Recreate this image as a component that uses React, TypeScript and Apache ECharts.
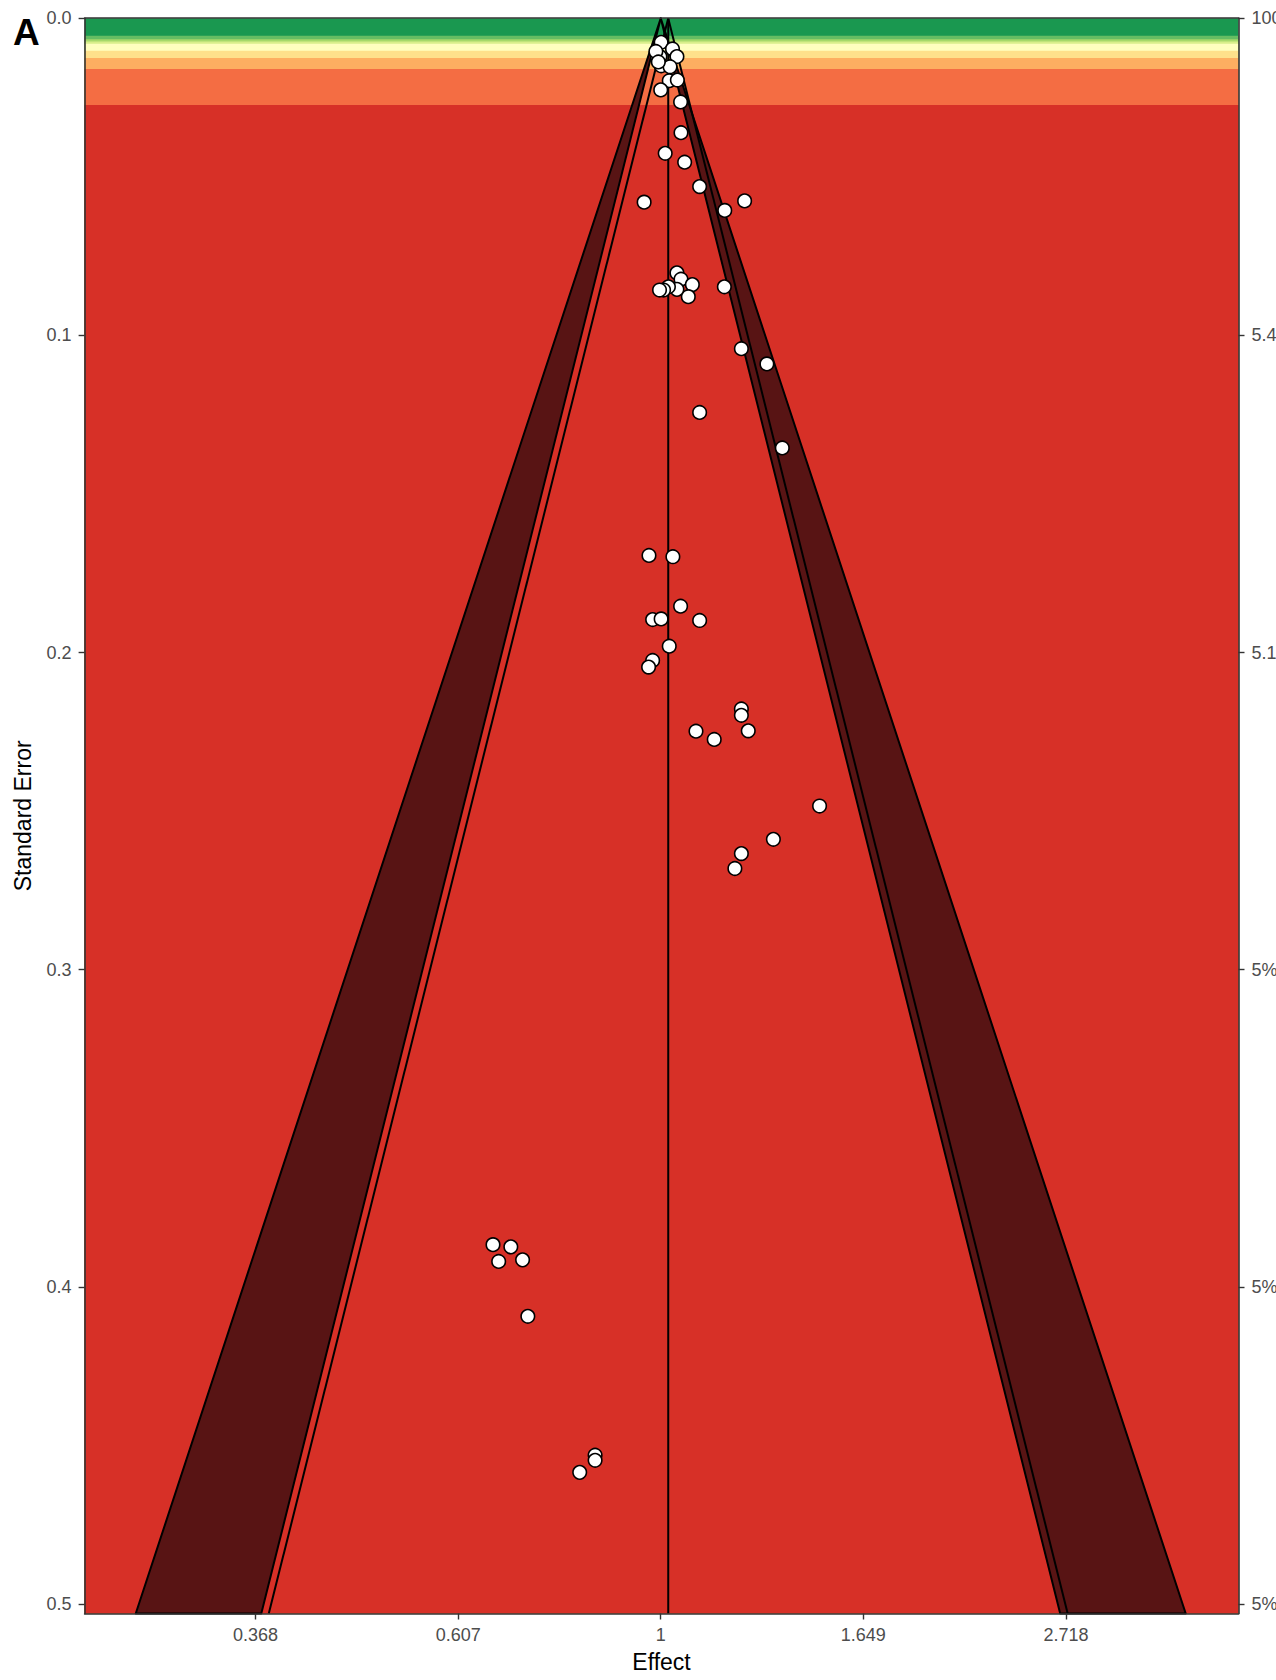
import React, { useEffect, useRef } from "react";
import * as echarts from "echarts";

// ---- data ----
const logEffect = [0.001, 0.029, 0.040, -0.008, -0.002, 0.001, 0.023, 0.021, 0.041, 0.000, 0.049, 0.050, 0.011, 0.059, 0.096, -0.041, 0.207, 0.158, 0.040, 0.050, 0.078, 0.068, 0.040, 0.019, 0.007, -0.003, 0.157, 0.199, 0.262, 0.096, 0.300, -0.029, 0.030, 0.049, -0.020, 0.001, 0.096, 0.021, -0.020, -0.030, 0.199, 0.199, 0.087, 0.132, 0.216, 0.392, 0.278, 0.199, 0.183, -0.414, -0.370, -0.400, -0.341, -0.328, -0.162, -0.162, -0.200, -0.012, -0.006];
const standardError = [0.0076, 0.0097, 0.0121, 0.0122, 0.0121, 0.0150, 0.0153, 0.0197, 0.0195, 0.0226, 0.0264, 0.0361, 0.0426, 0.0454, 0.0531, 0.0580, 0.0576, 0.0606, 0.0803, 0.0823, 0.0840, 0.0878, 0.0855, 0.0847, 0.0857, 0.0857, 0.0847, 0.1042, 0.1090, 0.1243, 0.1355, 0.1694, 0.1698, 0.1854, 0.1896, 0.1894, 0.1899, 0.1980, 0.2025, 0.2046, 0.2178, 0.2198, 0.2248, 0.2274, 0.2247, 0.2484, 0.2589, 0.2634, 0.2681, 0.3867, 0.3874, 0.3920, 0.3915, 0.4093, 0.4531, 0.4547, 0.4585, 0.0105, 0.0138];

const summaryLogEffect = 0.0185;
const zInner = 1.96;
const zOuter = 2.576;

// power bands (start SE of each band) and colours
const bandStartSE = [0, 0.00552, 0.00665, 0.00735, 0.00804, 0.01025, 0.01255, 0.0160, 0.0274];
const bandColors = ["#1A9850", "#66BD63", "#A6D96A", "#D9EF8B", "#FFFFBF", "#FEE08B", "#FDAE61", "#F46D43", "#D73027"];

const xTickValues = [-1, -0.5, 0, 0.5, 1];
const xTickLabels = ["0.368", "0.607", "1", "1.649", "2.718"];
const seTickLabels = ["0.0", "0.1", "0.2", "0.3", "0.4", "0.5"];
const powerTickLabels = ["100%", "5.4%", "5.1%", "5%", "5%", "5%"];

const X_MIN = -1.422;
const X_MAX = 1.426;
const SE_MAX = 0.503;

const FONT = "'Liberation Sans', Arial, Helvetica, sans-serif";
const DARK = "#581414";

export default function App() {
  const ref = useRef<HTMLDivElement>(null);

  useEffect(() => {
    document.body.style.margin = "0";
    document.body.style.overflow = "hidden";
    if (!ref.current) return;
    const chart = echarts.init(ref.current, undefined, { renderer: "svg" });

    const points = logEffect.map((v, i) => [v, standardError[i]]);

    const axisLineStyle = { color: "#333333", width: 1.6 };
    const tickStyle = { color: "#333333", width: 1.4 };

    const option: any = {
      animation: false,
      backgroundColor: "#ffffff",
      textStyle: { fontFamily: FONT },
      grid: {
        left: 84.6,
        top: 18.2,
        right: 37.5,
        bottom: 66.5,
        containLabel: false,
        outerBoundsMode: "none",
      },
      graphic: [
        {
          type: "text",
          left: 13,
          top: 14,
          z: 100,
          style: { text: "A", fill: "#000", font: `bold 37px ${FONT}` },
        },
      ],
      xAxis: [
        {
          type: "value",
          min: X_MIN,
          max: X_MAX,
          z: 10,
          position: "bottom",
          name: "Effect",
          nameLocation: "middle",
          nameGap: 37,
          nameTextStyle: { color: "#000", fontSize: 23, fontFamily: FONT },
          axisLine: { show: true, onZero: false, lineStyle: axisLineStyle },
          axisTick: { show: true, length: 6, lineStyle: tickStyle, customValues: xTickValues },
          axisLabel: {
            show: true,
            color: "#4D4D4D",
            fontSize: 18,
            fontFamily: FONT,
            margin: 12,
            customValues: xTickValues,
            formatter: (v: number) => {
              const i = xTickValues.findIndex((t) => Math.abs(t - v) < 1e-6);
              return i >= 0 ? xTickLabels[i] : "";
            },
          },
          splitLine: { show: false },
        },
        {
          type: "value",
          min: X_MIN,
          max: X_MAX,
          z: 10,
          position: "top",
          axisLine: { show: true, onZero: false, lineStyle: axisLineStyle },
          axisTick: { show: false },
          axisLabel: { show: false },
          splitLine: { show: false },
        },
      ],
      yAxis: [
        {
          type: "value",
          inverse: true,
          min: 0,
          max: SE_MAX,
          interval: 0.1,
          z: 10,
          position: "left",
          name: "Standard Error",
          nameLocation: "middle",
          nameGap: 50,
          nameRotate: 90,
          nameTextStyle: { color: "#000", fontSize: 23, fontFamily: FONT },
          axisLine: { show: true, onZero: false, lineStyle: axisLineStyle },
          axisTick: { show: true, length: 6, lineStyle: tickStyle },
          axisLabel: {
            color: "#4D4D4D",
            fontSize: 18,
            fontFamily: FONT,
            margin: 13,
            showMaxLabel: false,
            formatter: (v: number) => seTickLabels[Math.round(v * 10)] ?? "",
          },
          splitLine: { show: false },
        },
        {
          type: "value",
          inverse: true,
          min: 0,
          max: SE_MAX,
          interval: 0.1,
          z: 10,
          position: "right",
          axisLine: { show: true, onZero: false, lineStyle: axisLineStyle },
          axisTick: { show: true, length: 6, lineStyle: tickStyle },
          axisLabel: {
            color: "#4D4D4D",
            fontSize: 18,
            fontFamily: FONT,
            margin: 13,
            showMaxLabel: false,
            formatter: (v: number) => powerTickLabels[Math.round(v * 10)] ?? "",
          },
          splitLine: { show: false },
        },
      ],
      series: [
        {
          type: "custom",
          name: "power bands",
          xAxisIndex: 0,
          yAxisIndex: 0,
          silent: true,
          z: 1,
          data: bandStartSE.map((s, i) => [0, s, i]),
          renderItem: (params: any, api: any) => {
            const s = api.value(1);
            const idx = api.value(2);
            const p0 = api.coord([X_MIN, s]);
            const p1 = api.coord([X_MAX, SE_MAX]);
            return {
              type: "rect",
              shape: { x: p0[0], y: p0[1], width: p1[0] - p0[0], height: p1[1] - p0[1] },
              style: { fill: bandColors[idx] },
            };
          },
        },
        {
          type: "custom",
          name: "significance contours",
          xAxisIndex: 0,
          yAxisIndex: 0,
          silent: true,
          z: 2,
          data: [[-1, 0], [1, 0]],
          renderItem: (params: any, api: any) => {
            const side = api.value(0);
            const pts = [
              api.coord([0, 0]),
              api.coord([side * zOuter * SE_MAX, SE_MAX]),
              api.coord([side * zInner * SE_MAX, SE_MAX]),
            ];
            return {
              type: "polygon",
              shape: { points: pts },
              style: { fill: DARK, stroke: "#000", lineWidth: 2, lineJoin: "round" },
            };
          },
        },
        {
          type: "line",
          name: "ci left",
          symbol: "none",
          silent: true,
          z: 3,
          lineStyle: { color: "#000", width: 2 },
          data: [
            [summaryLogEffect, 0],
            [summaryLogEffect - zInner * SE_MAX, SE_MAX],
          ],
        },
        {
          type: "line",
          name: "ci right",
          symbol: "none",
          silent: true,
          z: 3,
          lineStyle: { color: "#000", width: 2 },
          data: [
            [summaryLogEffect, 0],
            [summaryLogEffect + zInner * SE_MAX, SE_MAX],
          ],
        },
        {
          type: "line",
          name: "summary",
          symbol: "none",
          silent: true,
          z: 3,
          lineStyle: { color: "#000", width: 2 },
          data: [
            [summaryLogEffect, 0],
            [summaryLogEffect, SE_MAX],
          ],
        },
        {
          type: "scatter",
          name: "studies",
          z: 5,
          symbol: "circle",
          symbolSize: 13.5,
          itemStyle: { color: "#ffffff", borderColor: "#000000", borderWidth: 1.6, opacity: 1 },
          data: points,
        },
      ],
    };

    chart.setOption(option);
    return () => {
      chart.dispose();
    };
  }, []);

  return <div ref={ref} style={{ width: 1276, height: 1680 }} />;
}
